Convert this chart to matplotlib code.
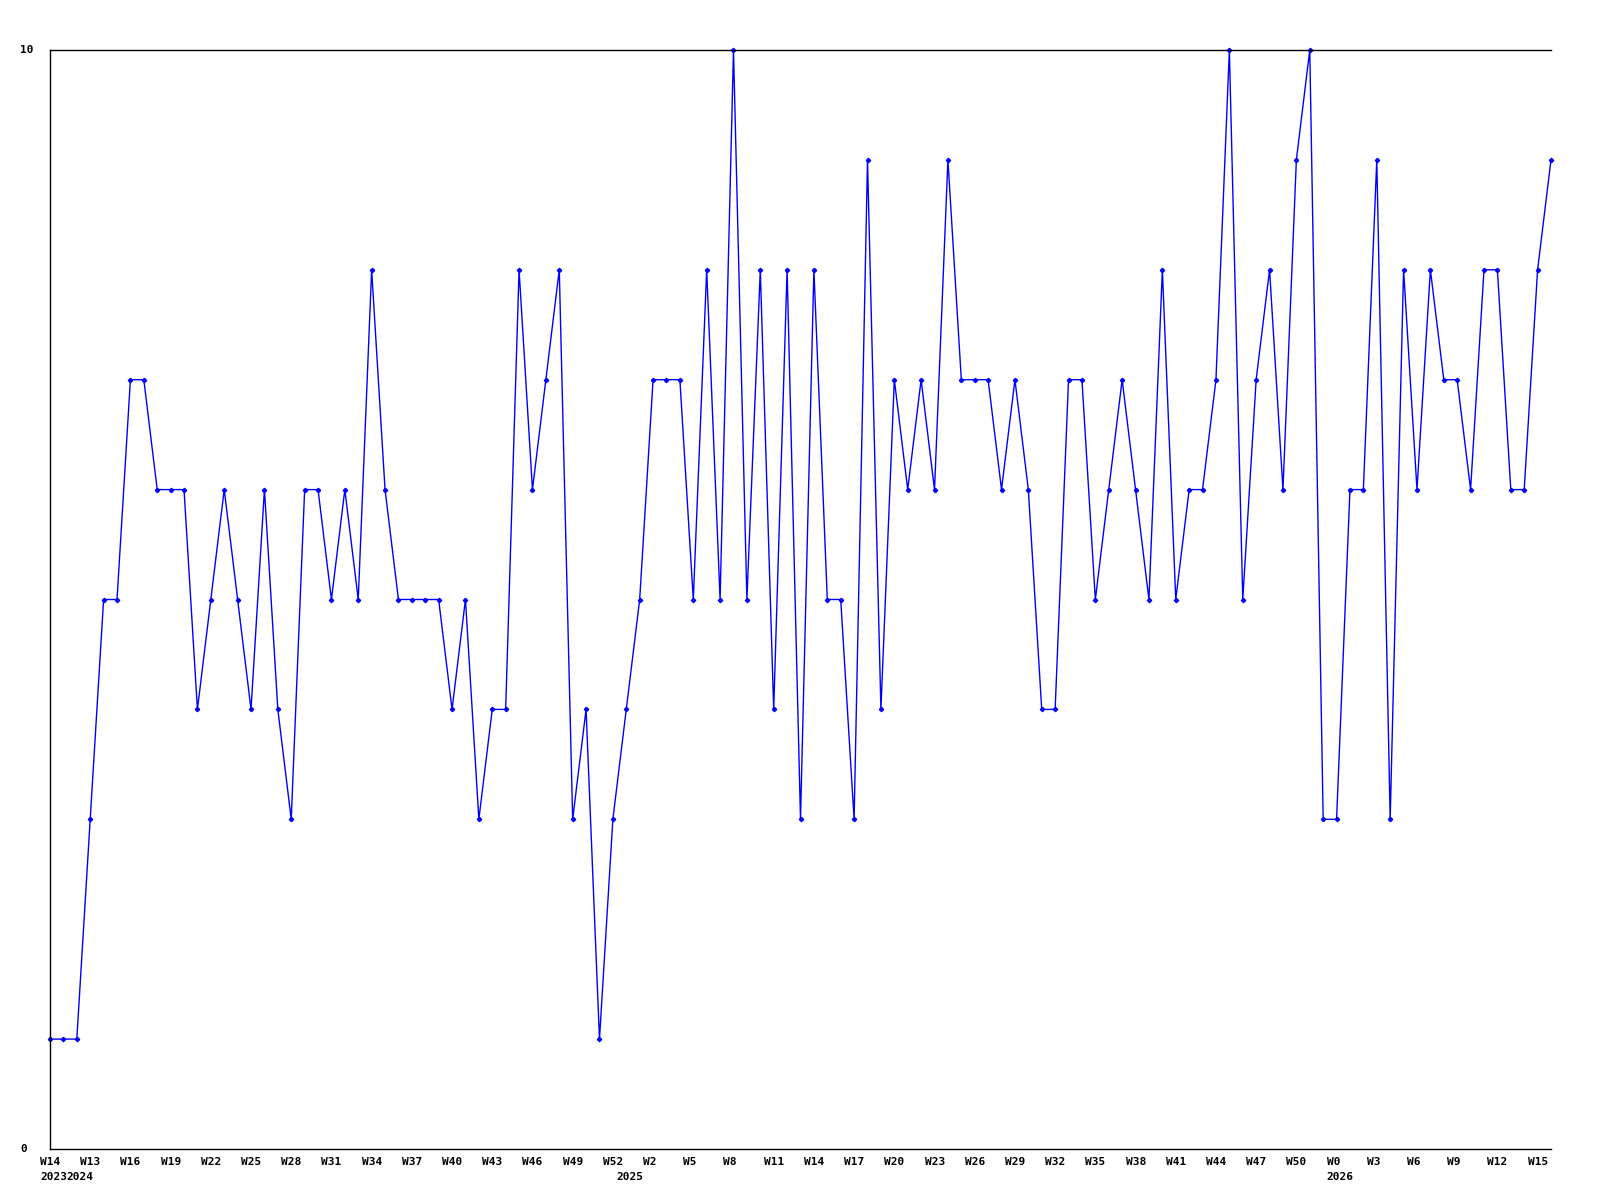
import matplotlib
matplotlib.use("Agg")
import matplotlib.pyplot as plt
import matplotlib.transforms as mtransforms

values = [1, 1, 1, 3, 5, 5, 7, 7, 6, 6,
          6, 4, 5, 6, 5, 4, 6, 4, 3, 6,
          6, 5, 6, 5, 8, 6, 5, 5, 5, 5,
          4, 5, 3, 4, 4, 8, 6, 7, 8, 3,
          4, 1, 3, 4, 5, 7, 7, 7, 5, 8,
          5, 10, 5, 8, 4, 8, 3, 8, 5, 5,
          3, 9, 4, 7, 6, 7, 6, 9, 7, 7,
          7, 6, 7, 6, 4, 4, 7, 7, 5, 6,
          7, 6, 5, 8, 5, 6, 6, 7, 10, 5,
          7, 8, 6, 9, 10, 3, 3, 6, 6, 9,
          3, 8, 6, 8, 7, 7, 6, 8, 8, 6,
          6, 8, 9]

week_tick_idx = [0, 3, 6, 9, 12, 15, 18, 21, 24, 27, 30, 33, 36, 39, 42, 45, 48,
                 51, 54, 57, 60, 63, 66, 69, 72, 75, 78, 81, 84, 87, 90, 93, 96,
                 99, 102, 105, 108, 111]
week_labels = ["W14", "W13", "W16", "W19", "W22", "W25", "W28", "W31", "W34",
               "W37", "W40", "W43", "W46", "W49", "W52", "W2", "W5", "W8", "W11",
               "W14", "W17", "W20", "W23", "W26", "W29", "W32", "W35", "W38",
               "W41", "W44", "W47", "W50", "W0", "W3", "W6", "W9", "W12", "W15"]
year_idx = [0, 2, 43, 96]
year_labels = ["2023", "2024", "2025", "2026"]
y_labels = ["0", "10"]
y_vals = [0, 10]

W, H = 1600, 1200
fig = plt.figure(figsize=(16, 12), dpi=100)
ax = fig.add_axes([50 / W, (H - 1149) / H, (1551 - 50) / W, (1149 - 50) / H])

x = list(range(len(values)))
ax.plot(x, values, color="#0000ff", linewidth=1.0, marker="D", markersize=2.2,
        markerfacecolor="#0000ff", markeredgecolor="#0000ff", clip_on=False)

ax.set_xlim(0, len(values) - 1)
ax.set_ylim(0, 10)
ax.set_xticks([])
ax.set_yticks([])
ax.spines["right"].set_visible(False)
for s in ("left", "top", "bottom"):
    ax.spines[s].set_linewidth(1.0)
    ax.spines[s].set_color("black")

font = dict(family="DejaVu Sans Mono", fontweight="bold", fontsize=8, color="black")

for i, lab in zip(week_tick_idx, week_labels):
    ax.annotate(lab, xy=(i, 0), xycoords=("data", "axes fraction"),
                xytext=(-7.2, -9.4), textcoords="offset points",
                ha="left", va="center", **font)
for i, lab in zip(year_idx, year_labels):
    ax.annotate(lab, xy=(i, 0), xycoords=("data", "axes fraction"),
                xytext=(-7.2, -20.2), textcoords="offset points",
                ha="left", va="center", **font)

trans = mtransforms.blended_transform_factory(fig.transFigure, ax.transData)
for v, lab in zip(y_vals, y_labels):
    ax.text(20 / W, v, lab, transform=trans, ha="left", va="center", **font)

fig.savefig("out.png", dpi=100, facecolor="white")
